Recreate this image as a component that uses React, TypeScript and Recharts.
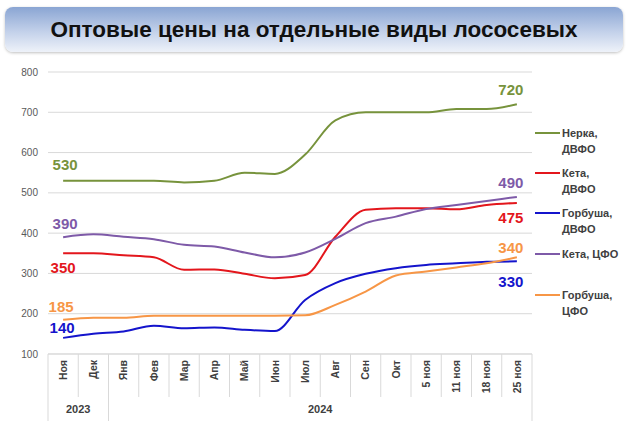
import React from "react";
import { LineChart, Line, XAxis, YAxis, CartesianGrid, LabelList } from "recharts";

const categories = ["Ноя", "Дек", "Янв", "Фев", "Мар", "Апр", "Май", "Июн", "Июл", "Авг", "Сен", "Окт", "5 ноя", "11 ноя", "18 ноя", "25 ноя"];
const yearGroups = [
  { label: "2023", start: 0, end: 1 },
  { label: "2024", start: 2, end: 15 },
];
const yTicks = [100, 200, 300, 400, 500, 600, 700, 800];

const nerkaDvfo = [530, 530, 530, 530, 526, 530, 550, 547, 595, 680, 700, 700, 700, 708, 708, 720];
const ketaDvfo = [350, 350, 345, 340, 309, 310, 299, 288, 296, 391, 458, 462, 462, 459, 470, 475];
const gorbushaDvfo = [140, 150, 156, 170, 164, 166, 160, 157, 234, 276, 299, 313, 321, 325, 329, 330];
const ketaCfo = [390, 397, 391, 385, 371, 367, 352, 340, 352, 386, 425, 441, 460, 470, 480, 490];
const gorbushaCfo = [185, 190, 190, 195, 195, 195, 195, 195, 196, 222, 255, 295, 305, 315, 325, 340];

const SERIES = [
  { key: "nerka", name: ["Нерка,", "ДВФО"], color: "#77933C", first: -16, last: -14, firstDx: 2, values: nerkaDvfo },
  { key: "ketaD", name: ["Кета,", "ДВФО"], color: "#E3161C", first: 14, last: 15, firstDx: 0, values: ketaDvfo },
  { key: "gorbD", name: ["Горбуша,", "ДВФО"], color: "#1414CC", first: -10, last: 20, firstDx: -1, values: gorbushaDvfo },
  { key: "ketaC", name: ["Кета, ЦФО"], color: "#7E5AA8", first: -13, last: -14, firstDx: 2, values: ketaCfo },
  { key: "gorbC", name: ["Горбуша,", "ЦФО"], color: "#F79646", first: -13, last: -10, firstDx: -2, values: gorbushaCfo },
];

const data = categories.map((cat, i) => {
  const row: Record<string, string | number> = { cat };
  SERIES.forEach((s) => (row[s.key] = s.values[i]));
  return row;
});

const W = 630;
const H = 421;
const TOP = 72;
const LEFT = 48;
const RIGHT = 98;
const XAXIS_H = 67;
const AXIS_Y = H - XAXIS_H;
const STEP = (W - LEFT - RIGHT) / categories.length;
const FONT = "'Liberation Sans', Arial, sans-serif";
const GRID = "#d9d9d9";

function CategoryTick(props: any) {
  const { x, index, payload } = props;
  const group = yearGroups.find((g) => g.start === index);
  const isLast = index === categories.length - 1;
  return (
    <g>
      <line x1={x - STEP / 2} x2={x - STEP / 2} y1={AXIS_Y} y2={group ? H : AXIS_Y + 43} stroke={GRID} />
      {isLast && <line x1={x + STEP / 2} x2={x + STEP / 2} y1={AXIS_Y} y2={H} stroke={GRID} />}
      <g transform={`translate(${x},${AXIS_Y + 6}) rotate(-90)`}>
        <text textAnchor="end" dy="0.35em" fontSize={10.5} fontWeight="bold" fill="#404040" fontFamily={FONT}>
          {payload.value}
        </text>
      </g>
      {group && (
        <text
          x={x - STEP / 2 + ((group.end - group.start + 1) * STEP) / 2}
          y={AXIS_Y + 59}
          textAnchor="middle"
          fontSize={11}
          fontWeight="bold"
          fill="#404040"
          fontFamily={FONT}
        >
          {group.label}
        </text>
      )}
    </g>
  );
}

function makeLabel(color: string, first: number, last: number, firstDx: number) {
  return (props: any) => {
    const { x, y, index, value } = props;
    if (index !== 0 && index !== categories.length - 1) return null;
    const isFirst = index === 0;
    return (
      <text
        x={isFirst ? x + firstDx : x - 6}
        y={y + (isFirst ? first : last)}
        dy="0.35em"
        textAnchor="middle"
        fontSize={15}
        fontWeight="bold"
        fill={color}
        fontFamily={FONT}
      >
        {value}
      </text>
    );
  };
}

export default function App() {
  return (
    <div style={{ position: "absolute", left: 0, top: 0, width: W, height: H, background: "#fff", overflow: "hidden" }}>
      <div
        style={{
          position: "absolute",
          left: 5,
          top: 7,
          width: 618,
          height: 45,
          borderRadius: 8,
          background: "linear-gradient(to bottom, #8aa5d3 0%, #c3d1ea 55%, #eef2f9 100%)",
          boxShadow: "0 1px 3px rgba(0,0,0,0.25)",
          display: "flex",
          alignItems: "center",
          justifyContent: "center",
          fontFamily: FONT,
          fontWeight: "bold",
          fontSize: 22.5,
          color: "#111",
        }}
      >
        Оптовые цены на отдельные виды лососевых
      </div>
      <LineChart width={W} height={H} data={data} margin={{ top: TOP, right: RIGHT, left: 8, bottom: 0 }}>
        <CartesianGrid vertical={false} stroke={GRID} />
        <XAxis
          dataKey="cat"
          interval={0}
          height={XAXIS_H}
          padding={{ left: STEP / 2, right: STEP / 2 }}
          axisLine={{ stroke: GRID }}
          tickLine={false}
          tick={<CategoryTick />}
        />
        <YAxis
          domain={[100, 800]}
          ticks={yTicks}
          width={40}
          axisLine={false}
          tickLine={false}
          tick={{ fontSize: 10, fill: "#595959", fontFamily: FONT }}
          tickMargin={4}
        />
        {SERIES.map((s) => (
          <Line
            key={s.key}
            type="monotone"
            dataKey={s.key}
            stroke={s.color}
            strokeWidth={2}
            dot={false}
            isAnimationActive={false}
          >
            <LabelList dataKey={s.key} content={makeLabel(s.color, s.first, s.last, s.firstDx)} />
          </Line>
        ))}
      </LineChart>
      {SERIES.map((s, i) => (
        <div
          key={s.key}
          style={{
            position: "absolute",
            left: 535,
            top: [125, 165, 205, 246, 287][i],
            display: "flex",
            alignItems: "flex-start",
            fontFamily: FONT,
            fontWeight: "bold",
            fontSize: 11,
            lineHeight: "16px",
            color: "#404040",
          }}
        >
          <span style={{ display: "inline-block", width: 25, height: 2, background: s.color, marginTop: 7, marginRight: 2 }} />
          <span>
            {s.name.map((n) => (
              <div key={n}>{n}</div>
            ))}
          </span>
        </div>
      ))}
    </div>
  );
}
